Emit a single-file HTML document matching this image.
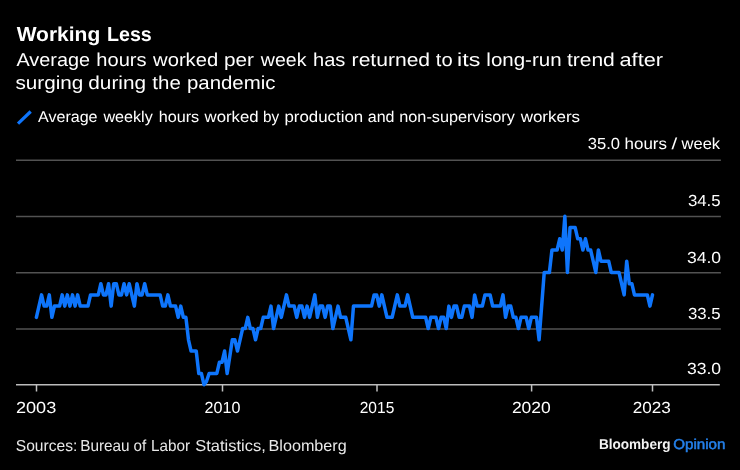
<!DOCTYPE html>
<html lang="en"><head><meta charset="utf-8"><title>Working Less</title>
<style>
html,body{margin:0;padding:0;background:#000;}
svg{display:block;will-change:transform;}
text{font-family:"Liberation Sans",sans-serif;fill:#fff;text-rendering:geometricPrecision;}
.t1{font-weight:700;font-size:20.2px;}
.t2{font-size:18.7px;}
.t3{font-size:15.6px;}
.t4{font-size:16px;}
.t5{font-size:15.9px;fill:#e8e8e8;}
.t6{font-size:14.3px;font-weight:700;fill:#f2f2f2;}
.t7{font-size:14.3px;fill:#2480ea;stroke:#2480ea;stroke-width:0.5px;}
</style></head>
<body>
<svg width="740" height="470" viewBox="0 0 740 470">
<rect width="740" height="470" fill="#000"/>
<line x1="18" y1="123.7" x2="30.7" y2="111.5" stroke="#0e75fc" stroke-width="3.2"/>
<line x1="16" x2="720.9" y1="160.2" y2="160.2" stroke="#525252" stroke-width="1.4"/>
<line x1="16" x2="720.9" y1="216.5" y2="216.5" stroke="#525252" stroke-width="1.4"/>
<line x1="16" x2="720.9" y1="272.8" y2="272.8" stroke="#525252" stroke-width="1.4"/>
<line x1="16" x2="720.9" y1="329.0" y2="329.0" stroke="#525252" stroke-width="1.4"/>
<line x1="16" x2="719.8" y1="384.7" y2="384.7" stroke="#bcbcbc" stroke-width="1.5"/>
<line x1="36.5" x2="36.5" y1="384.7" y2="391.5" stroke="#c0c0c0" stroke-width="1.5"/>
<line x1="222.5" x2="222.5" y1="384.7" y2="391.5" stroke="#c0c0c0" stroke-width="1.5"/>
<line x1="377.0" x2="377.0" y1="384.7" y2="391.5" stroke="#c0c0c0" stroke-width="1.5"/>
<line x1="531.6" x2="531.6" y1="384.7" y2="391.5" stroke="#c0c0c0" stroke-width="1.5"/>
<line x1="652.5" x2="652.5" y1="384.7" y2="391.5" stroke="#c0c0c0" stroke-width="1.5"/>
<polyline points="36.40,317.35 38.98,306.12 41.56,294.90 44.13,306.12 46.71,306.12 49.29,294.90 51.87,317.35 54.44,306.12 57.02,306.12 59.60,306.12 62.18,294.90 64.76,306.12 67.33,294.90 69.91,306.12 72.49,294.90 75.07,306.12 77.65,294.90 80.22,306.12 82.80,306.12 85.38,306.12 87.96,306.12 90.53,294.90 93.11,294.90 95.69,294.90 98.27,294.90 100.85,283.68 103.42,294.90 106.00,294.90 108.58,283.68 111.16,306.12 113.73,283.68 116.31,283.68 118.89,294.90 121.47,294.90 124.05,283.68 126.62,294.90 129.20,283.68 131.78,294.90 134.36,306.12 136.94,283.68 139.51,294.90 142.09,294.90 144.67,283.68 147.25,294.90 149.82,294.90 152.40,294.90 154.98,294.90 157.56,294.90 160.14,294.90 162.71,306.12 165.29,306.12 167.87,294.90 170.45,306.12 173.02,306.12 175.60,306.12 178.18,317.35 180.76,306.12 183.34,317.35 185.91,317.35 188.49,339.80 191.07,351.03 193.65,351.03 196.23,351.03 198.80,373.47 201.38,373.47 203.96,384.70 206.54,381.33 209.11,373.47 211.69,373.47 214.27,373.47 216.85,373.47 219.43,362.25 222.00,362.25 224.58,351.03 227.16,373.47 229.74,356.64 232.31,339.80 234.89,339.80 237.47,351.03 240.05,339.80 242.63,328.57 245.20,328.57 247.78,317.35 250.36,328.57 252.94,328.57 255.52,339.80 258.09,328.57 260.67,328.57 263.25,317.35 265.83,317.35 268.40,317.35 270.98,306.12 273.56,328.57 276.14,317.35 278.72,306.12 281.29,317.35 283.87,306.12 286.45,294.90 289.03,306.12 291.60,306.12 294.18,306.12 296.76,317.35 299.34,306.12 301.92,306.12 304.49,317.35 307.07,306.12 309.65,317.35 312.23,306.12 314.81,294.90 317.38,317.35 319.96,306.12 322.54,306.12 325.12,317.35 327.69,306.12 330.27,306.12 332.85,328.57 335.43,317.35 338.01,306.12 340.58,317.35 343.16,317.35 345.74,317.35 348.32,328.57 350.89,339.80 353.47,306.12 356.05,306.12 358.63,306.12 361.21,306.12 363.78,306.12 366.36,306.12 368.94,306.12 371.52,306.12 374.09,294.90 376.67,294.90 379.25,306.12 381.83,294.90 384.41,306.12 386.98,317.35 389.56,317.35 392.14,317.35 394.72,306.12 397.30,294.90 399.87,306.12 402.45,306.12 405.03,306.12 407.61,294.90 410.18,306.12 412.76,317.35 415.34,317.35 417.92,317.35 420.50,317.35 423.07,317.35 425.65,317.35 428.23,328.57 430.81,317.35 433.38,317.35 435.96,317.35 438.54,328.57 441.12,317.35 443.70,317.35 446.27,328.57 448.85,306.12 451.43,317.35 454.01,306.12 456.59,306.12 459.16,317.35 461.74,317.35 464.32,306.12 466.90,306.12 469.47,306.12 472.05,317.35 474.63,294.90 477.21,306.12 479.79,306.12 482.36,306.12 484.94,294.90 487.52,294.90 490.10,294.90 492.67,306.12 495.25,306.12 497.83,306.12 500.41,306.12 502.99,294.90 505.56,317.35 508.14,306.12 510.72,306.12 513.30,317.35 515.88,317.35 518.45,328.57 521.03,317.35 523.61,317.35 526.19,317.35 528.76,328.57 531.34,317.35 533.92,317.35 536.50,317.35 539.08,339.80 541.65,306.12 544.23,272.45 546.81,272.45 549.39,272.45 551.96,250.00 554.54,250.00 557.12,250.00 559.70,238.78 562.28,250.00 564.85,216.32 567.43,272.45 570.01,227.55 572.59,227.55 575.17,227.55 577.74,238.78 580.32,238.78 582.90,250.00 585.48,238.78 588.05,250.00 590.63,250.00 593.21,261.22 595.79,272.45 598.37,250.00 600.94,261.22 603.52,261.22 606.10,261.22 608.68,261.22 611.25,272.45 613.83,272.45 616.41,272.45 618.99,272.45 621.57,283.68 624.14,294.90 626.72,261.22 629.30,283.68 631.88,283.68 634.46,294.90 637.03,294.90 639.61,294.90 642.19,294.90 644.77,294.90 647.34,294.90 649.92,306.12 652.50,294.90" fill="none" stroke="#0e75fc" stroke-width="3.5" stroke-linejoin="round" stroke-linecap="round"/>
<text class="t1" y="40.80"><tspan x="16.68" textLength="83.6" lengthAdjust="spacingAndGlyphs">Working</tspan> <tspan x="107.03" textLength="44.73" lengthAdjust="spacingAndGlyphs">Less</tspan></text>
<text class="t2" y="65.80"><tspan x="16.49" textLength="73.62" lengthAdjust="spacingAndGlyphs">Average</tspan> <tspan x="96.38" textLength="50.23" lengthAdjust="spacingAndGlyphs">hours</tspan> <tspan x="153.06" textLength="65.15" lengthAdjust="spacingAndGlyphs">worked</tspan> <tspan x="223.9" textLength="30.03" lengthAdjust="spacingAndGlyphs">per</tspan> <tspan x="260.83" textLength="45.59" lengthAdjust="spacingAndGlyphs">week</tspan> <tspan x="312.98" textLength="32.37" lengthAdjust="spacingAndGlyphs">has</tspan> <tspan x="351.61" textLength="78.49" lengthAdjust="spacingAndGlyphs">returned</tspan> <tspan x="435.81" textLength="16.83" lengthAdjust="spacingAndGlyphs">to</tspan> <tspan x="457.08" textLength="23.17" lengthAdjust="spacingAndGlyphs">its</tspan> <tspan x="486.34" textLength="75.29" lengthAdjust="spacingAndGlyphs">long-run</tspan> <tspan x="566.91" textLength="47.92" lengthAdjust="spacingAndGlyphs">trend</tspan> <tspan x="619.49" textLength="43.62" lengthAdjust="spacingAndGlyphs">after</tspan></text>
<text class="t2" y="89.20"><tspan x="15.51" textLength="67.85" lengthAdjust="spacingAndGlyphs">surging</tspan> <tspan x="88.32" textLength="57.69" lengthAdjust="spacingAndGlyphs">during</tspan> <tspan x="152.37" textLength="28.47" lengthAdjust="spacingAndGlyphs">the</tspan> <tspan x="186.99" textLength="88.45" lengthAdjust="spacingAndGlyphs">pandemic</tspan></text>
<text class="t3" y="122.40"><tspan x="38.01" textLength="59.54" lengthAdjust="spacingAndGlyphs">Average</tspan> <tspan x="103.43" textLength="49.34" lengthAdjust="spacingAndGlyphs">weekly</tspan> <tspan x="158.66" textLength="40.53" lengthAdjust="spacingAndGlyphs">hours</tspan> <tspan x="204.55" textLength="53.99" lengthAdjust="spacingAndGlyphs">worked</tspan> <tspan x="262.9" textLength="16.16" lengthAdjust="spacingAndGlyphs">by</tspan> <tspan x="284.48" textLength="78.75" lengthAdjust="spacingAndGlyphs">production</tspan> <tspan x="367.74" textLength="26.73" lengthAdjust="spacingAndGlyphs">and</tspan> <tspan x="399.28" textLength="115.66" lengthAdjust="spacingAndGlyphs">non-supervisory</tspan> <tspan x="520.67" textLength="59.43" lengthAdjust="spacingAndGlyphs">workers</tspan></text>
<text class="t4" y="149.20"><tspan x="587.79" textLength="32.2" lengthAdjust="spacingAndGlyphs">35.0</tspan> <tspan x="624.58" textLength="42.34" lengthAdjust="spacingAndGlyphs">hours</tspan> <tspan x="671.6" textLength="5.67" lengthAdjust="spacingAndGlyphs">/</tspan> <tspan x="681.6" textLength="38.52" lengthAdjust="spacingAndGlyphs">week</tspan></text>
<text class="t4" y="206.35"><tspan x="687.93" textLength="32.69" lengthAdjust="spacingAndGlyphs">34.5</tspan></text>
<text class="t4" y="262.65"><tspan x="686.93" textLength="34.13" lengthAdjust="spacingAndGlyphs">34.0</tspan></text>
<text class="t4" y="318.85"><tspan x="687.93" textLength="32.69" lengthAdjust="spacingAndGlyphs">33.5</tspan></text>
<text class="t4" y="374.35"><tspan x="686.93" textLength="34.13" lengthAdjust="spacingAndGlyphs">33.0</tspan></text>
<text class="t4" y="412.90"><tspan x="15.95" textLength="40.33" lengthAdjust="spacingAndGlyphs">2003</tspan> <tspan x="204.64" textLength="35.83" lengthAdjust="spacingAndGlyphs">2010</tspan> <tspan x="359.73" textLength="34.56" lengthAdjust="spacingAndGlyphs">2015</tspan> <tspan x="511.92" textLength="38.86" lengthAdjust="spacingAndGlyphs">2020</tspan> <tspan x="632.73" textLength="38.1" lengthAdjust="spacingAndGlyphs">2023</tspan></text>
<text class="t5" y="451.30"><tspan x="15.8" textLength="61.48" lengthAdjust="spacingAndGlyphs">Sources:</tspan> <tspan x="80.22" textLength="49.38" lengthAdjust="spacingAndGlyphs">Bureau</tspan> <tspan x="133.49" textLength="12.66" lengthAdjust="spacingAndGlyphs">of</tspan> <tspan x="151.0" textLength="39.07" lengthAdjust="spacingAndGlyphs">Labor</tspan> <tspan x="195.32" textLength="70.46" lengthAdjust="spacingAndGlyphs">Statistics,</tspan> <tspan x="268.56" textLength="78.19" lengthAdjust="spacingAndGlyphs">Bloomberg</tspan></text>
<text class="t6" y="449.30"><tspan x="598.88" textLength="71.65" lengthAdjust="spacingAndGlyphs">Bloomberg</tspan></text>
<text class="t7" y="449.30"><tspan x="673.23" textLength="52.27" lengthAdjust="spacingAndGlyphs">Opinion</tspan></text>
</svg>
</body></html>
